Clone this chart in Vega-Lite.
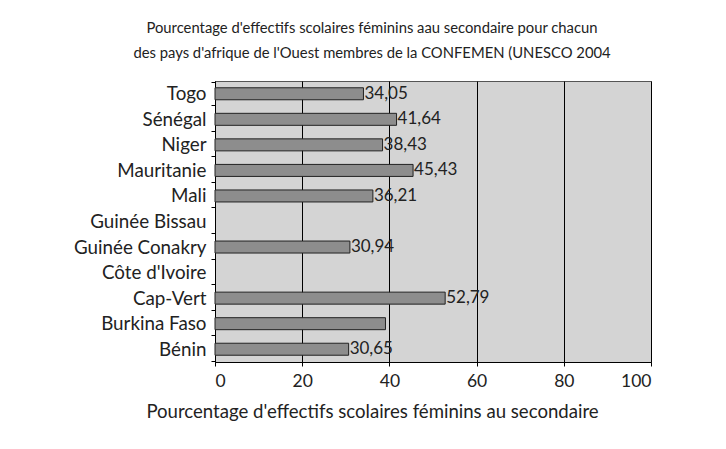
{
  "$schema": "https://vega.github.io/schema/vega-lite/v6.json",
  "width": 436,
  "height": 281,
  "autosize": {"type": "none"},
  "padding": {"left": 215, "top": 81, "right": 75, "bottom": 87},
  "background": "white",
  "title": {
    "text": ["Pourcentage d'effectifs scolaires féminins aau secondaire pour chacun", "des pays d'afrique de l'Ouest membres de la CONFEMEN (UNESCO 2004"],
    "anchor": "middle",
    "dx": -61,
    "offset": 11,
    "font": "Lato",
    "fontSize": 14.8,
    "fontWeight": "normal",
    "color": "#222",
    "lineHeight": 25
  },
  "data": {
    "values": [
      {"pays": "Togo", "valeur": 34.05, "label": "34,05"},
      {"pays": "Sénégal", "valeur": 41.64, "label": "41,64"},
      {"pays": "Niger", "valeur": 38.43, "label": "38,43"},
      {"pays": "Mauritanie", "valeur": 45.43, "label": "45,43"},
      {"pays": "Mali", "valeur": 36.21, "label": "36,21"},
      {"pays": "Guinée Bissau", "valeur": null, "label": ""},
      {"pays": "Guinée Conakry", "valeur": 30.94, "label": "30,94"},
      {"pays": "Côte d'Ivoire", "valeur": null, "label": ""},
      {"pays": "Cap-Vert", "valeur": 52.79, "label": "52,79"},
      {"pays": "Burkina Faso", "valeur": 39.1, "label": ""},
      {"pays": "Bénin", "valeur": 30.65, "label": "30,65"}
    ]
  },
  "config": {
    "view": {"fill": "#d4d4d4", "stroke": "#555", "strokeWidth": 1},
    "font": "Lato"
  },
  "encoding": {
    "y": {
      "field": "pays",
      "type": "nominal",
      "sort": null,
      "title": null,
      "scale": {"domain": ["Togo", "Sénégal", "Niger", "Mauritanie", "Mali", "Guinée Bissau", "Guinée Conakry", "Côte d'Ivoire", "Cap-Vert", "Burkina Faso", "Bénin"]},
      "axis": {
        "labelFont": "Lato",
        "labelFontSize": 18.8,
        "labelColor": "#222",
        "labelPadding": 5,
        "domainColor": "#000",
        "tickColor": "#000",
        "tickBand": "extent",
        "tickSize": 4
      }
    }
  },
  "layer": [
    {
      "mark": {"type": "bar", "size": 12, "fill": "#8d8d8d", "stroke": "#222", "strokeWidth": 1},
      "encoding": {
        "x": {
          "field": "valeur",
          "type": "quantitative",
          "scale": {"domain": [0, 100], "nice": false},
          "title": "Pourcentage d'effectifs scolaires féminins au secondaire",
          "axis": {
            "values": [0, 20, 40, 60, 80, 100],
            "grid": true,
            "gridColor": "#000",
            "gridOpacity": 1,
            "gridWidth": 1,
            "domainColor": "#000",
            "tickColor": "#000",
            "tickSize": 4,
            "labelFont": "Lato",
            "labelFontSize": 17.5,
            "labelColor": "#222",
            "labelPadding": 6,
            "titleFont": "Lato",
            "titleFontSize": 18.6,
            "titleFontWeight": "normal",
            "titleColor": "#222",
            "titlePadding": 13,
            "titleX": 157,
            "titleAnchor": "middle"
          }
        }
      }
    },
    {
      "mark": {"type": "text", "align": "left", "baseline": "middle", "dx": 1, "fontSize": 17, "font": "Lato", "color": "#222"},
      "encoding": {
        "x": {"field": "valeur", "type": "quantitative"},
        "text": {"field": "label"}
      }
    }
  ]
}
